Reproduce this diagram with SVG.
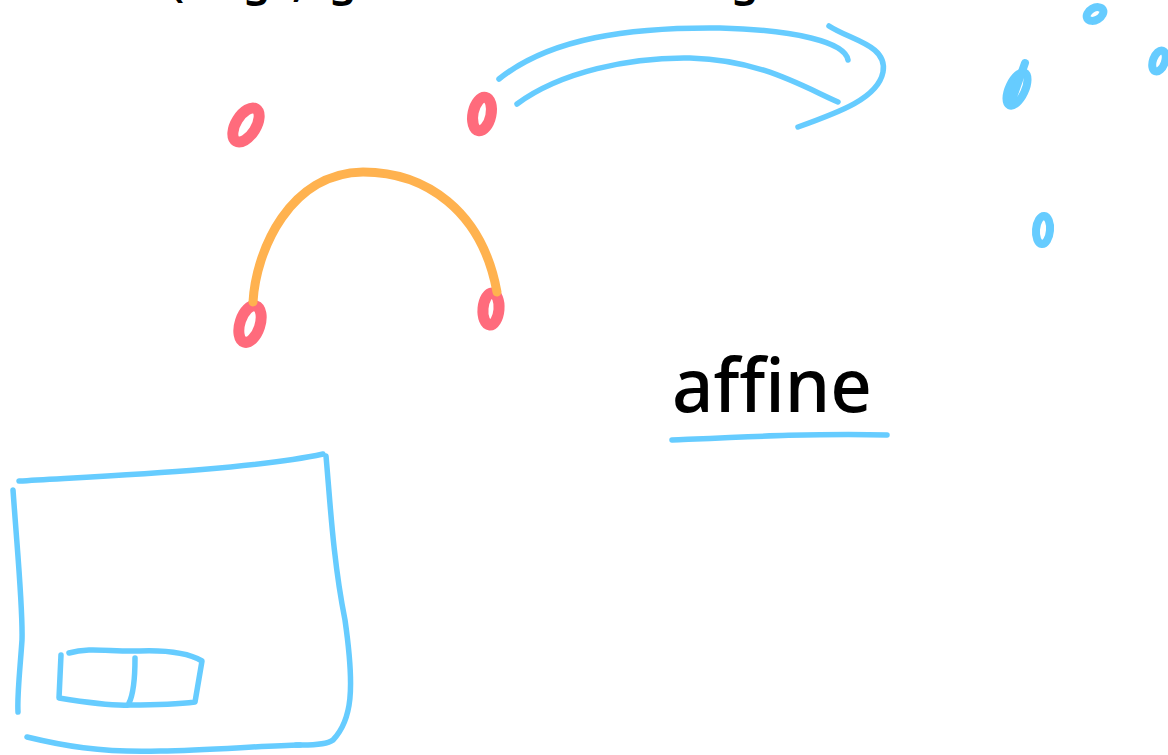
<svg xmlns="http://www.w3.org/2000/svg" width="1168" height="755" viewBox="0 0 1168 755">
  <style>
    .ink { fill: none; stroke-linecap: round; stroke-linejoin: round; }
    .red { stroke: #ff6b7c; stroke-width: 11; fill: none; }
    .blue { stroke: #66ccff; stroke-width: 5.5; }
    .blue-dot { stroke: #66ccff; stroke-width: 8; fill: none; stroke-linecap: round; }
    .orange { stroke: #ffb24f; stroke-width: 9; }
    .hand { font-family: "Noto Sans", "DejaVu Sans", sans-serif; fill: #000; }
  </style>
  <rect width="1168" height="755" fill="#ffffff"/>

  <!-- heading, running off the top edge -->
  <text class="hand" y="-4" font-size="44" font-weight="600">
    <tspan x="170">(</tspan><tspan x="243">g</tspan><tspan x="292">,</tspan><tspan x="329">g</tspan><tspan x="731">g</tspan>
  </text>

  <!-- red points -->
  <g id="point-a"><ellipse class="red" cx="246" cy="125" rx="10" ry="19" transform="rotate(32 246 125)"/></g>
  <g id="point-b"><ellipse class="red" cx="482" cy="114" rx="9" ry="17" transform="rotate(12 482 114)"/></g>
  <g id="point-c"><ellipse class="red" cx="250" cy="324" rx="10" ry="19" transform="rotate(18 250 324)"/></g>
  <g id="point-d"><ellipse class="red" cx="491" cy="309" rx="8" ry="16" transform="rotate(5 491 309)"/></g>

  <!-- blue points -->
  <g id="point-e"><ellipse class="blue-dot" cx="1095" cy="14" rx="9" ry="6" transform="rotate(-30 1095 14)"/></g>
  <g id="point-f"><ellipse class="blue-dot" cx="1159" cy="61" rx="6" ry="11" transform="rotate(20 1159 61)"/></g>
  <g id="point-g">
    <ellipse class="blue-dot" cx="1017" cy="89" rx="8" ry="18" transform="rotate(25 1017 89)"/>
    <path class="blue-dot" stroke-width="6" d="M1025,63 L1012,100"/>
  </g>
  <g id="point-h"><ellipse class="blue-dot" cx="1043" cy="230" rx="7" ry="14" transform="rotate(5 1043 230)"/></g>

  <!-- label -->
  <g id="label-affine">
    <text class="hand" x="672" y="412" font-size="74" font-weight="500" textLength="200" lengthAdjust="spacingAndGlyphs">affine</text>
    <path class="ink blue" stroke-width="6.5" d="M672,440 C740,437 820,433 887,435"/>
  </g>

  <!-- frame with a small split rectangle -->
  <g id="frame" class="ink blue">
    <path d="M19,481 C100,476 250,470 323,454"/>
    <path d="M326,456 C330,500 333,560 345,620 C355,690 352,720 333,740 C325,746 305,745 296,745"/>
    <path d="M27,737 C60,745 100,753 160,751 C210,750 260,746 300,745"/>
    <path d="M13,490 C18,560 23,610 22,640 C20,670 17,695 18,712"/>
    <path d="M61,655 L59,698 C90,703 115,706 130,705 C160,705 180,704 195,702 L202,661 C190,654 170,650 140,651 C110,652 90,647 69,653"/>
    <path d="M135,658 C135,680 133,695 129,703"/>
  </g>

  <!-- connectors -->
  <g id="connectors" class="ink">
    <path class="orange" d="M253,302 C256,250 290,173 363,172 C425,172 482,210 497,292"/>
    <path class="blue" d="M499,79 C550,38 630,27 720,28 C795,30 845,42 848,60"/>
    <path class="blue" d="M517,104 C560,72 630,57 690,58 C760,60 800,85 838,102"/>
    <path class="blue" d="M829,26 C850,40 888,45 883,72 C878,98 840,112 798,127"/>
  </g>
</svg>
